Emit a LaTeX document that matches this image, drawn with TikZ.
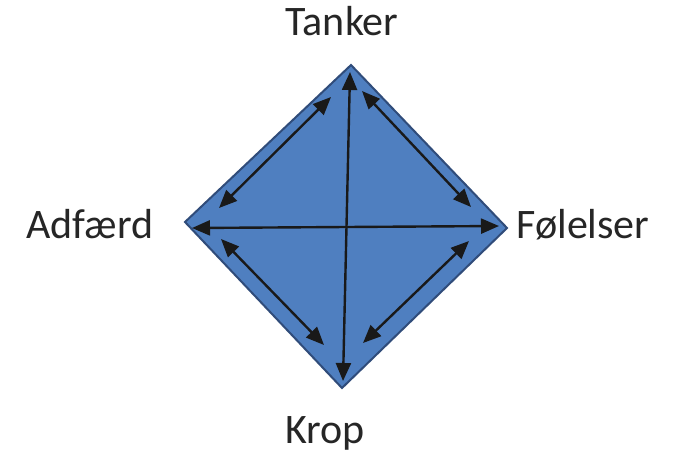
\documentclass[tikz,border=0pt]{standalone}
\usepackage{fontspec}
\setmainfont{Carlito}
\usetikzlibrary{arrows.meta}
\definecolor{dfill}{RGB}{79,127,192}
\definecolor{dborder}{RGB}{48,76,122}
\tikzset{
  lbl/.style={anchor=base, font=\fontsize{42}{46}\selectfont, text=black!85, inner sep=0pt},
  dbl/.style={draw=black!90, line width=2.4pt, {Triangle[length=18pt,width=15pt]}-{Triangle[length=18pt,width=15pt]}}
}
\begin{document}
\begin{tikzpicture}[x=1pt,y=-1pt]
\useasboundingbox[fill=white] (0,0) rectangle (679,459);
% diamond vertices
\coordinate (T) at (351,65);
\coordinate (R) at (507,228);
\coordinate (B) at (342,388);
\coordinate (L) at (185,222);
\draw[fill=dfill, draw=dborder, line width=2pt, line join=miter] (T) -- (R) -- (B) -- (L) -- cycle;
% arrow endpoints
\coordinate (vt) at (350,72);
\coordinate (vb) at (343,381);
\coordinate (hl) at (192,228);
\coordinate (hr) at (499,226);
\coordinate (ula) at (219,208);
\coordinate (ulb) at (331,97);
\coordinate (ura) at (362,91);
\coordinate (urb) at (471,207);
\coordinate (lra) at (469,241);
\coordinate (lrb) at (363,343);
\coordinate (lla) at (221,239);
\coordinate (llb) at (324,345);
\draw[dbl] (vt) -- (vb);
\draw[dbl] (hl) -- (hr);
\draw[dbl] (ula) -- (ulb);
\draw[dbl] (ura) -- (urb);
\draw[dbl] (lra) -- (lrb);
\draw[dbl] (lla) -- (llb);
% labels
\node[lbl] (tanker) at (342,35) {Tanker};
\node[lbl] (adfaerd) at (90,238) {Adfærd};
\node[lbl] (folelser) at (583,238) {Følelser};
\node[lbl] (krop) at (325,443) {Krop};
\end{tikzpicture}
\end{document}
